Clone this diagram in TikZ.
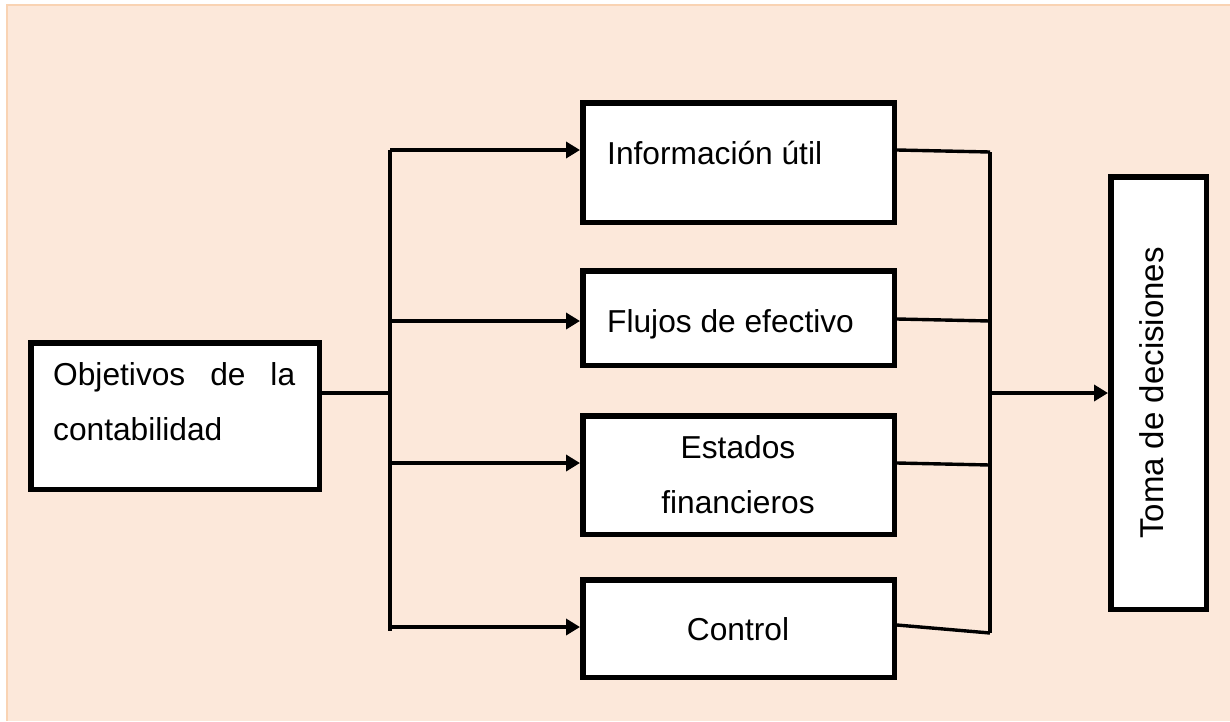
\documentclass[tikz,border=0pt]{standalone}
\usepackage{fontspec}
\setmainfont{Liberation Sans}
\usetikzlibrary{arrows.meta}
\definecolor{bgfill}{HTML}{FCE8DA}
\definecolor{bgedge}{HTML}{F9D3B3}
\begin{document}
\begin{tikzpicture}[x=1pt,y=-1pt,
  box/.style={draw=black, line width=5.5pt, fill=white, rectangle, inner sep=0pt, anchor=north west},
  txt/.style={font=\fontsize{31.7}{38}\selectfont, inner sep=0pt},
  arr/.style={line width=4pt, -{Triangle[length=14pt,width=16pt]}},
  trunk/.style={line width=4.3pt},
  ln/.style={line width=3.4pt},
]
\useasboundingbox (0,0) rectangle (1230,721);
\fill[bgfill] (6,4) rectangle (1230,721);
\draw[bgedge, line width=2pt] (7,721) -- (7,5) -- (1230,5);

% boxes
\node[box, minimum width=288.5pt, minimum height=146.5pt] (obj) at (28,340) {};
\node[box, minimum width=311.5pt, minimum height=119.5pt] (info) at (580,100) {};
\node[box, minimum width=311.5pt, minimum height=94.5pt] (flujos) at (580,268) {};
\node[box, minimum width=311.5pt, minimum height=118.5pt] (estados) at (580,413) {};
\node[box, minimum width=311.5pt, minimum height=97.5pt] (control) at (580,577) {};
\node[box, minimum width=95.5pt, minimum height=432.5pt] (toma) at (1108,174) {};

% texts
\node[txt, anchor=base west] (tobj1) at (53,385) {\makebox[242pt][s]{Objetivos de la}};
\node[txt, anchor=base west] (tobj2) at (53,440) {contabilidad};
\node[txt, anchor=base west] (tinfo) at (607,164) {Información útil};
\node[txt, anchor=base west] (tflu) at (607,332) {Flujos de efectivo};
\node[txt, anchor=base] (test1) at (738,458) {Estados};
\node[txt, anchor=base] (test2) at (738,513) {financieros};
\node[txt, anchor=base] (tcon) at (738,640) {Control};
\node[txt, font=\fontsize{33}{40}\selectfont, anchor=base, rotate=90] (ttoma) at (1163,393) {Toma de decisiones};

% left distribution
\coordinate (t1) at (390,150);
\coordinate (t2) at (390,321);
\coordinate (t3) at (390,463);
\coordinate (t4) at (390,627);
\coordinate (tb) at (390,631);
\coordinate (tm) at (390,393);
\draw[trunk, line join=round] (t1) -- (tb);
\draw[trunk] (obj.east |- tm) -- (tm);
\draw[arr] (t1) -- (t1 -| info.west);
\draw[arr] (t2) -- (t2 -| flujos.west);
\draw[arr] (t3) -- (t3 -| estados.west);
\draw[arr] (t4) -- (t4 -| control.west);

% right collection
\coordinate (r1) at (0,150);
\coordinate (r2) at (0,319);
\coordinate (r3) at (0,463);
\coordinate (r4) at (0,625);
\coordinate (c1) at (990,152);
\coordinate (c2) at (990,321);
\coordinate (c3) at (990,465);
\coordinate (c4) at (990,633);
\coordinate (c5) at (990,393);
\draw[ln] (c1) -- (c4);
\draw[ln] (info.east |- r1) -- (c1);
\draw[ln] (flujos.east |- r2) -- (c2);
\draw[ln] (estados.east |- r3) -- (c3);
\draw[ln] (control.east |- r4) -- (c4);
\draw[arr] (c5) -- (c5 -| toma.west);
\end{tikzpicture}
\end{document}
